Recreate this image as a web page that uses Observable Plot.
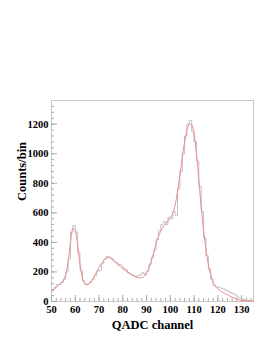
<!DOCTYPE html>
<html>
<head>
<meta charset="utf-8">
<script src="https://cdn.jsdelivr.net/npm/d3@7"></script>
<script src="https://cdn.jsdelivr.net/npm/@observablehq/plot@0.6"></script>
<style>
  html, body { margin: 0; padding: 0; background: #fff; }
  #chart svg { display: block; }
</style>
</head>
<body>
<div id="chart"></div>
<script>
// Histogram bins (lower edge of 1-channel bins) and counts
const binStart = d3.range(50, 135);
const histCounts = [
  75, 95, 115, 115, 130, 150, 200, 290, 470, 515,
  470, 330, 210, 140, 115, 120, 130, 150, 175, 205,
  210, 255, 285, 305, 300, 290, 270, 262, 250, 245,
  225, 215, 195, 185, 175, 170, 175, 180, 195, 180,
  205, 250, 300, 350, 420, 480, 520, 540, 520, 570,
  560, 610, 580, 760, 880, 1000, 1120, 1200, 1225, 1150,
  1080, 950, 780, 610, 430, 310, 220, 150, 110, 100,
  95, 90, 85, 75, 70, 60, 55, 45, 30, 25,
  15, 10, 10, 5, 5
];
// Fit curve sampled at integer channels
const fitX = d3.range(50, 136);
const fitY = [
  68, 80, 95, 110, 125, 145, 185, 270, 400, 495,
  480, 380, 250, 160, 122, 115, 125, 145, 170, 200,
  230, 258, 280, 294, 298, 292, 280, 265, 250, 236,
  222, 210, 198, 188, 178, 170, 164, 160, 160, 172,
  195, 230, 275, 330, 390, 440, 478, 505, 525, 545,
  565, 595, 650, 740, 850, 970, 1080, 1160, 1200, 1195,
  1130, 1000, 820, 640, 480, 350, 250, 180, 132, 103,
  85, 73, 63, 54, 45, 37, 30, 23, 17, 12,
  8, 6, 4, 3, 2, 2
];
const xMajor = [50, 60, 70, 80, 90, 100, 110, 120, 130];
const xMinor = d3.range(50, 135, 2);
const yMajor = [0, 200, 400, 600, 800, 1000, 1200];
const yMinor = d3.range(0, 1360, 40);
const xTitle = "QADC channel";
const yTitle = "Counts/bin";

const W = 273, H = 353;
const mTop = 100, mBottom = 52, mLeft = 51, mRight = 20;
const innerW = W - mLeft - mRight, innerH = H - mTop - mBottom;

const hist = binStart.map((x, i) => ({x, y: histCounts[i]}));
hist.push({x: 135, y: histCounts[histCounts.length - 1]});
const fit = fitX.map((x, i) => ({x, y: fitY[i]}));

const font = "'Liberation Serif', 'DejaVu Serif', serif";

const chart = Plot.plot({
  width: W,
  height: H,
  marginTop: mTop,
  marginBottom: mBottom,
  marginLeft: mLeft,
  marginRight: mRight,
  style: {fontFamily: font, fontWeight: "bold", fontSize: "10.5px", background: "#fff", color: "#000"},
  x: {domain: [50, 135]},
  y: {domain: [0, 1360]},
  marks: [
    Plot.frame({stroke: "#c8c8c8"}),
    Plot.tickX(xMinor, {x: d => d, insetTop: innerH - 3, stroke: "#aaa"}),
    Plot.tickX(xMajor, {x: d => d, insetTop: innerH - 6, stroke: "#aaa"}),
    Plot.tickY(yMinor, {y: d => d, insetRight: innerW - 3, stroke: "#aaa"}),
    Plot.tickY(yMajor, {y: d => d, insetRight: innerW - 6, stroke: "#aaa"}),
    Plot.line(hist, {x: "x", y: "y", curve: "step-after", stroke: "#c2c2c2", strokeWidth: 1}),
    Plot.line(fit, {x: "x", y: "y", curve: "monotone-x", stroke: "#f28a8a", strokeWidth: 1}),
    Plot.axisX(xMajor, {tickSize: 0, tickPadding: 4, label: null, tickFormat: "d", fontWeight: "bold", fontSize: 10.5}),
    Plot.axisY(yMajor, {tickSize: 0, tickPadding: 3, label: null, tickFormat: "d", fontWeight: "bold", fontSize: 10.5}),
    Plot.text([xTitle], {frameAnchor: "bottom", dy: 27, text: d => d, fontSize: 12.5, fontWeight: "bold", fill: "#000"}),
    Plot.text([yTitle], {frameAnchor: "left", dx: -30, rotate: -90, text: d => d, fontSize: 12.5, fontWeight: "bold", fill: "#000"})
  ]
});
document.getElementById("chart").appendChild(chart);
</script>
</body>
</html>
